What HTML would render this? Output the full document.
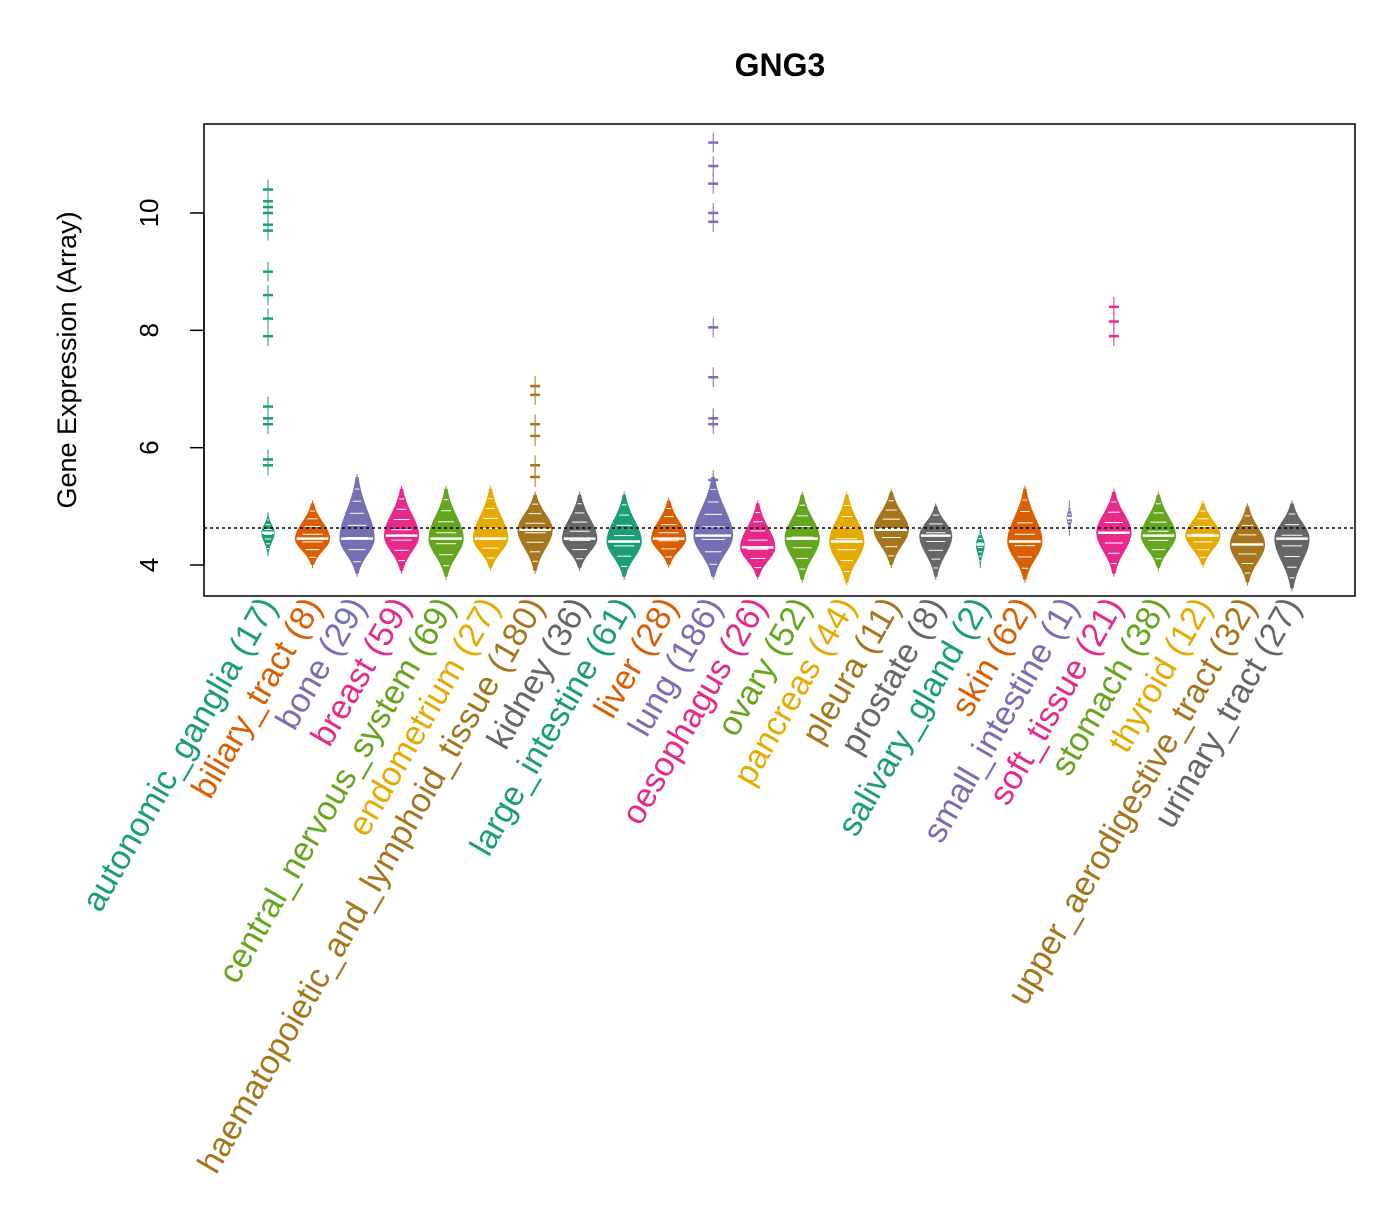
<!DOCTYPE html>
<html><head><meta charset="utf-8"><style>
body{margin:0;background:#fff}
svg text{font-family:"Liberation Sans",sans-serif}
</style></head><body>
<svg id="chart" width="1400" height="1200">
<text x="780" y="76" text-anchor="middle" font-size="32" font-weight="bold">GNG3</text>
<rect x="204" y="124" width="1151" height="472" fill="none" stroke="#000" stroke-width="1.5"/>
<text transform="translate(76,360) rotate(-90)" text-anchor="middle" font-size="27">Gene Expression (Array)</text>
<g id="axis"></g><g id="beans"></g><g id="labels"></g>
</svg>
<script>
const categories=["autonomic_ganglia (17)","biliary_tract (8)","bone (29)","breast (59)","central_nervous_system (69)","endometrium (27)","haematopoietic_and_lymphoid_tissue (180)","kidney (36)","large_intestine (61)","liver (28)","lung (186)","oesophagus (26)","ovary (52)","pancreas (44)","pleura (11)","prostate (8)","salivary_gland (2)","skin (62)","small_intestine (1)","soft_tissue (21)","stomach (38)","thyroid (12)","upper_aerodigestive_tract (32)","urinary_tract (27)"];
const medians=[4.55,4.45,4.45,4.5,4.45,4.45,4.6,4.45,4.4,4.45,4.5,4.3,4.45,4.4,4.6,4.5,4.35,4.4,4.8,4.55,4.5,4.5,4.35,4.45];
const lows=[4.2,4.0,3.85,3.9,3.8,3.95,3.9,3.95,3.8,4.0,3.8,3.8,3.75,3.7,4.0,3.8,4.0,3.75,4.55,3.85,3.95,4.0,3.7,3.6];
const highs=[4.85,5.05,5.5,5.3,5.3,5.3,5.2,5.2,5.2,5.1,5.5,5.05,5.2,5.2,5.25,5.0,4.6,5.3,5.05,5.25,5.2,5.05,5.0,5.05];
const widths=[0.3,0.8,0.8,0.8,0.8,0.8,0.8,0.8,0.8,0.8,0.9,0.8,0.8,0.8,0.8,0.75,0.2,0.8,0.12,0.8,0.8,0.8,0.8,0.8];
const outliers=[[10.4,10.2,10.1,10.0,9.8,9.7,9.0,8.6,8.2,7.9,6.7,6.5,6.4,5.8,5.7],[],[],[],[],[],[7.05,6.9,6.4,6.2,5.7,5.5],[],[],[],[11.2,10.8,10.5,10.0,9.85,8.05,7.2,6.5,6.4,5.45],[],[],[],[],[],[],[],[],[8.4,8.15,7.9],[],[],[],[]];
const yTicks=[4,6,8,10];
const refLine=4.63;
const colors=["#1B9E77","#D95F02","#7570B3","#E7298A","#66A61E","#E6AB02","#A6761D","#666666"];
const NS="http://www.w3.org/2000/svg";
const yS=v=>565-(v-4)*58.67;
const xS=i=>268+i*44.52;
function mk(t,a,p){const e=document.createElementNS(NS,t);for(const k in a)e.setAttribute(k,a[k]);p.appendChild(e);return e;}
const ax=document.getElementById('axis');
mk('line',{x1:204,x2:204,y1:yS(4),y2:yS(10),stroke:'#000','stroke-width':1.5},ax);
yTicks.forEach(t=>{
 mk('line',{x1:190,x2:204,y1:yS(t),y2:yS(t),stroke:'#000','stroke-width':1.5},ax);
 const tx=mk('text',{transform:`translate(158,${yS(t)}) rotate(-90)`,'text-anchor':'middle','font-size':26},ax);
 tx.textContent=t;
 
 
});
const bg=document.getElementById('beans');
categories.forEach((c,i)=>{
 const col=colors[i%8],x=xS(i),m=medians[i],lo=lows[i],hi=highs[i],w=widths[i]*22;
 const g=mk('g',{},bg);
 
 
 mk('line',{x1:x,x2:x,y1:yS(lo-0.05),y2:yS(hi+0.05),stroke:col,'stroke-width':1},g);
 const N=40,pts=[],sd=(hi-m)/2.2,sl=(m-lo)/2.2;
 for(let k=0;k<=N;k++){const v=lo+(hi-lo)*k/N;const s=v>m?sd:sl;const ww=w*Math.exp(-0.5*((v-m)/s)**2);pts.push([ww,yS(v)]);}
 let d='M'+pts.map(p=>(x+p[0]).toFixed(1)+','+p[1].toFixed(1)).join('L')+'L'+pts.slice().reverse().map(p=>(x-p[0]).toFixed(1)+','+p[1].toFixed(1)).join('L')+'Z';
 mk('path',{d:d,fill:col},g);
 for(let k=1;k<8;k++){const v=lo+(hi-lo)*k/8;const s=v>m?sd:sl;const ww=w*Math.exp(-0.5*((v-m)/s)**2)*0.6;mk('line',{x1:x-ww,x2:x+ww,y1:yS(v),y2:yS(v),stroke:'#fff','stroke-width':1},g);}
 mk('line',{x1:x-w*0.9,x2:x+w*0.9,y1:yS(m),y2:yS(m),stroke:'#fff','stroke-width':2.5},g);
 outliers[i].forEach(v=>{
  mk('line',{x1:x,x2:x,y1:yS(v+0.17),y2:yS(v-0.17),stroke:col,'stroke-width':1},g);
  mk('line',{x1:x-5,x2:x+5,y1:yS(v),y2:yS(v),stroke:col,'stroke-width':2.5},g);
 });
});
mk('line',{x1:204,x2:1355,y1:yS(refLine),y2:yS(refLine),stroke:'#000','stroke-width':1.5,'stroke-dasharray':'3,3'},bg);
const lg=document.getElementById('labels');
categories.forEach((c,i)=>{
 const t=mk('text',{transform:`translate(${xS(i)+10},606) rotate(-60)`,'text-anchor':'end','font-size':34,fill:colors[i%8]},lg);
 t.textContent=c;
 
 
});
</script>
</body></html>
